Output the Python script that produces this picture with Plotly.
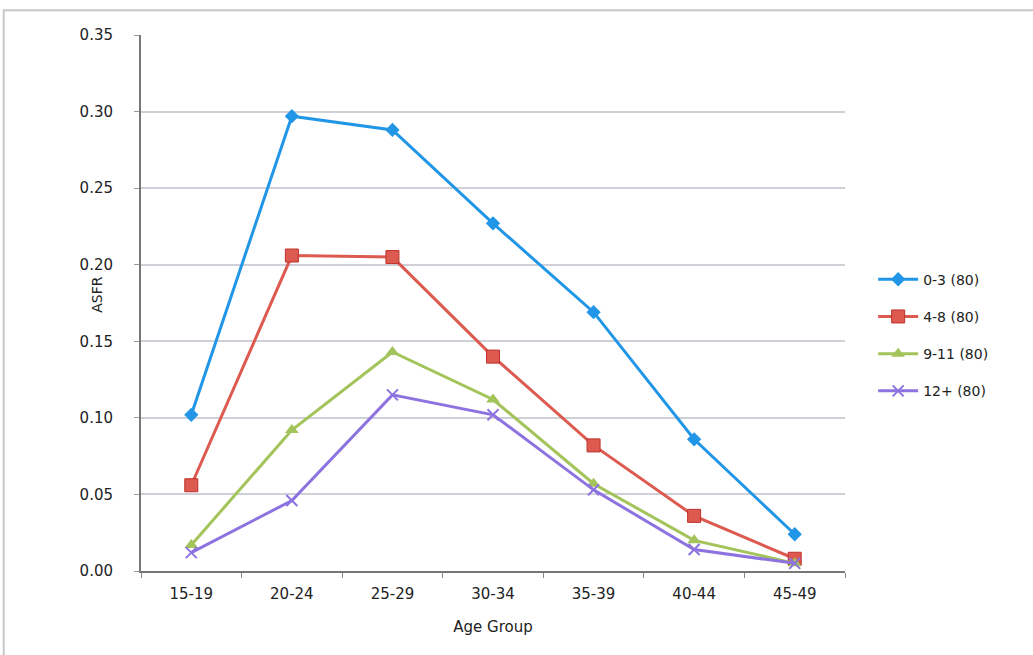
import plotly.graph_objects as go

# Age-specific fertility rates by years of schooling
age_groups = ["15-19", "20-24", "25-29", "30-34", "35-39", "40-44", "45-49"]
asfr_0_3 = [0.102, 0.297, 0.288, 0.227, 0.169, 0.086, 0.024]
asfr_4_8 = [0.056, 0.206, 0.205, 0.140, 0.082, 0.036, 0.008]
asfr_9_11 = [0.017, 0.092, 0.143, 0.112, 0.057, 0.020, 0.005]
asfr_12p = [0.012, 0.046, 0.115, 0.102, 0.053, 0.014, 0.005]
series_names = ["0-3 (80)", "4-8 (80)", "9-11 (80)", "12+ (80)"]
y_ticks = [0.00, 0.05, 0.10, 0.15, 0.20, 0.25, 0.30, 0.35]

FONT = "DejaVu Sans, Verdana, sans-serif"

styles = [
    dict(color="#2196e6", symbol="diamond", size=11, lw=0),
    dict(color="#dc5a50", symbol="square", size=13, lw=1),
    dict(color="#a3c45a", symbol="triangle-up", size=12, lw=0),
    dict(color="#8d73e0", symbol="x-thin", size=11, lw=2),
]

fig = go.Figure()
for i, (name, vals, st) in enumerate(zip(series_names,
                                         [asfr_0_3, asfr_4_8, asfr_9_11, asfr_12p],
                                         styles)):
    fig.add_trace(go.Scatter(
        x=age_groups, y=vals, name=name, mode="lines+markers",
        legendgroup=f"g{i}",
        line=dict(color=st["color"], width=3),
        marker=dict(symbol=st["symbol"], size=st["size"], color=st["color"],
                    line=dict(color="#c0302a" if i == 1 else st["color"], width=st["lw"])),
    ))

fig.update_layout(
    width=1033, height=655,
    margin=dict(l=141, r=188, t=35, b=84),
    paper_bgcolor="white", plot_bgcolor="white",
    font=dict(family=FONT, size=14, color="#222222"),
    showlegend=True,
    legend=dict(x=1.04, y=0.44, xanchor="left", yanchor="middle",
                tracegroupgap=16, font=dict(size=14, color="#222222"),
                itemwidth=40, bgcolor="rgba(0,0,0,0)"),
    xaxis=dict(
        type="category", range=[-0.5, len(age_groups) - 0.5],
        tickson="boundaries", ticks="outside", ticklen=5,
        tickcolor="#888888", showline=True, linecolor="#777777", linewidth=2,
        showgrid=False, ticklabelstandoff=8,
        title=dict(text="Age Group", font=dict(size=15), standoff=19),
        tickfont=dict(size=15),
    ),
    yaxis=dict(
        range=[0, 0.35], tickvals=y_ticks, tickformat=".2f",
        ticks="outside", ticklen=5, tickcolor="#999999",
        showline=True, linecolor="#777777", linewidth=2,
        showgrid=True, gridcolor="#cfcfd8", gridwidth=2,
        zeroline=False, ticklabelstandoff=18,
        tickfont=dict(size=15),
    ),
)

# Y-axis title, set between the tick labels
fig.add_annotation(text="ASFR", xref="paper", yref="paper",
                   x=-0.062, y=0.516, xanchor="center", yanchor="middle",
                   textangle=-90, showarrow=False, font=dict(size=14))

# Outer chart frame
fig.add_shape(type="rect", xref="paper", yref="paper",
              x0=-0.195, x1=1.27, y0=-0.2, y1=1.046,
              line=dict(color="#c8c8c8", width=2), layer="below")

fig.write_html("out.html")
